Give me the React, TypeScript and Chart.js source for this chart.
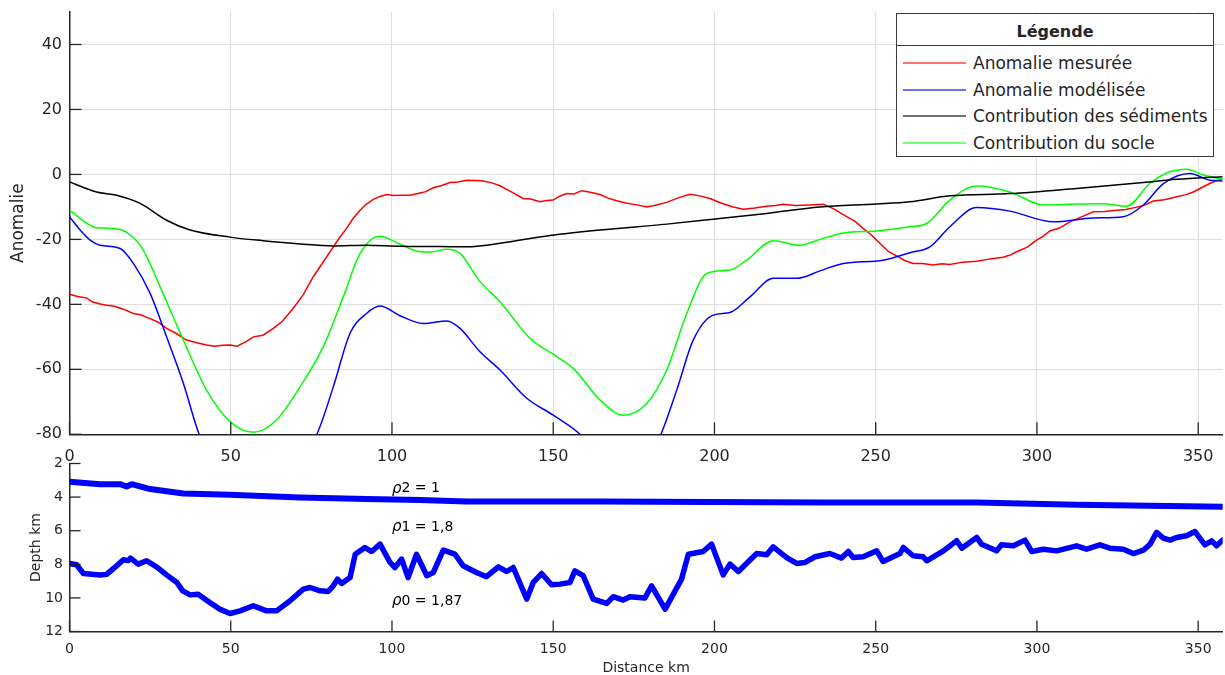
import { useEffect, useRef } from "react";
import { Chart, registerables } from "chart.js";
Chart.register(...registerables);

const FONT = '"DejaVu Sans", "Liberation Sans", sans-serif';
const AXIS = "#262626";

// ---- Top panel: anomalies vs distance (km) ----
const blackX = [0, 8.4, 14.6, 21.9, 30.1, 37.4, 49.8, 60, 71.5, 81.7, 92.1, 102.5, 115, 123.2, 133.5, 149, 164.5, 185.2, 199.6, 216.2, 232.7, 250.3, 260.6, 273, 291.6, 312.3, 333, 343.3, 357.6];
const blackY = [-2.3, -5.4, -6.4, -8.9, -14.1, -17.1, -19.3, -20.4, -21.4, -22, -21.8, -22.1, -22.2, -22.3, -21.2, -18.8, -17.1, -15.3, -13.8, -12, -10, -9.1, -8.4, -6.6, -5.9, -4.3, -2.5, -1.5, -0.7];

const redX = [0, 2.5, 5.3, 7, 9.5, 11.5, 13.6, 16.5, 19.8, 22, 25, 27.5, 30.1, 33, 36.3, 39.5, 42.5, 45, 47.5, 49.8, 52, 55, 57, 60, 63.2, 66, 69.4, 72.5, 75.6, 78.5, 81.8, 83.5, 85.9, 88, 90.1, 92, 94.2, 96.5, 98.4, 100.5, 102.5, 105.6, 108.7, 110.5, 112.8, 115.5, 118, 120.5, 123.2, 126, 128.3, 131, 133.5, 137, 140.7, 143, 145.9, 148, 150, 152, 154.2, 156.5, 158.8, 161.5, 164.5, 167, 169.7, 172.5, 175.5, 179, 182, 185.2, 188.5, 192.4, 195.5, 198.6, 202, 205.8, 208.9, 212.5, 216.2, 219, 221.3, 225, 229.6, 233.7, 237, 241, 243.5, 246.1, 248.5, 251.3, 254, 256.5, 259, 261.6, 264.5, 267.8, 270.5, 273, 277, 281.3, 285.5, 289.5, 291.5, 293.7, 297, 299.9, 302, 304, 307, 310.2, 314, 317.5, 321, 324.7, 327.5, 329.9, 333, 336.1, 339.5, 343.3, 346, 348.5, 351, 353.6, 355.5, 357.6];
const redY = [-36.9, -37.6, -38.0, -39.2, -39.9, -40.3, -40.5, -41.4, -42.8, -43.2, -44.4, -45.5, -47.4, -48.9, -51, -51.8, -52.5, -52.9, -52.6, -52.5, -52.9, -51.3, -50, -49.5, -47.4, -45.2, -41.2, -37, -31.5, -27.2, -22.3, -19.8, -16.6, -13.5, -11, -9.2, -7.7, -6.7, -6.2, -6.5, -6.4, -6.4, -5.7, -5.3, -4.1, -3.4, -2.5, -2.3, -1.8, -1.9, -2, -2.6, -3.5, -5.4, -7.4, -7.6, -8.4, -8.0, -7.9, -6.7, -5.9, -6.0, -5.0, -5.5, -6.2, -7.3, -8.1, -8.8, -9.3, -10, -9.4, -8.6, -7.3, -6.1, -6.6, -7.4, -8.8, -10, -10.7, -10.3, -9.8, -9.6, -9.2, -9.6, -9.4, -9.2, -10.6, -13, -14.4, -16.6, -18.5, -21.2, -23.8, -25.1, -26.5, -27.4, -27.4, -27.9, -27.5, -27.7, -27.0, -26.7, -26.0, -25.5, -24.9, -23.8, -22.4, -20.2, -19.0, -17.4, -16.5, -14.6, -13.0, -11.5, -11.4, -11, -10.8, -10.3, -9.6, -8.2, -7.8, -6.9, -6.3, -5.4, -4.1, -2.8, -2.0, -1.5];

const greenX = [0, 8.4, 14.6, 19.8, 22.9, 28.1, 35.3, 42.5, 49.8, 57, 64.2, 71.5, 78.7, 84.9, 90.1, 96.3, 102.5, 108.7, 112, 117, 121.1, 127.3, 133.5, 142.8, 150, 156.2, 164.5, 171.7, 179, 185.2, 191.4, 197.6, 204.8, 210, 218.2, 226.5, 232.7, 239.9, 250.3, 260.6, 265.8, 273, 281.3, 291.6, 302, 312.3, 320, 327.8, 335, 341.2, 346.4, 351.6, 357.6];
const greenY = [-11, -16.4, -16.7, -19.4, -23.3, -34.6, -51, -66.4, -76.1, -79.4, -75.6, -65.4, -53, -37.7, -24.3, -19, -21.5, -23.8, -23.9, -23, -24.3, -33, -39.2, -50.5, -55.4, -59.7, -69.4, -74.1, -70.5, -60.2, -42.8, -30.5, -29.4, -26.4, -20.4, -21.8, -20, -18, -17.4, -16.1, -15.1, -7.9, -3.6, -5.4, -9.4, -9.1, -9.0, -9.8, -2.8, 0.8, 1.6, -0.2, -1.5];

const blueX = [0, 3.3, 6.4, 9.5, 15.7, 19.8, 25, 30.1, 35.3, 40.2, 47, 57, 67, 76.7, 81.8, 87, 92.1, 96.3, 102.5, 109.7, 117, 121.1, 127.3, 133.5, 141.8, 150, 158.3, 165, 172, 178, 183.4, 188.3, 193.4, 199.6, 204.8, 211, 218.2, 225.5, 232.7, 239.9, 252.3, 260.6, 266.8, 273, 281.3, 291.6, 305.1, 317.5, 326.8, 333, 339.2, 347.5, 353.6, 357.6];
const blueY = [-13, -17.1, -20.2, -21.8, -22.8, -27.4, -36.6, -50, -64.3, -80, -93, -99, -94, -80, -65.4, -48.9, -42.8, -40.5, -43.5, -45.9, -45.1, -47.4, -54.6, -60.2, -68.9, -74.1, -80, -88, -93, -90, -80, -66.4, -51, -43.3, -42.5, -37.7, -32, -32, -29.7, -27.4, -26.4, -24.1, -22.3, -16.1, -10.2, -11.3, -14.6, -13.4, -13, -9.4, -2.8, 0.3, -1.8, -2];

const seriesNames = ["Anomalie mesurée", "Anomalie modélisée", "Contribution des sédiments", "Contribution du socle"];
const seriesColors = ["#ff0000", "#0000ff", "#000000", "#00ff00"];
const legendColors = ["#ff7070", "#7070ff", "#707070", "#70ff70"];
const legendTitle = "Légende";

// ---- Bottom panel: interface depths (km) ----
const sedX = [0, 9.5, 15.7, 17.7, 19.3, 25, 35.3, 49.8, 71.5, 92.1, 108.7, 123.2, 164.5, 232.7, 281.3, 312.3, 357.6];
const sedY = [3.09, 3.23, 3.23, 3.37, 3.23, 3.52, 3.79, 3.86, 4.02, 4.12, 4.18, 4.26, 4.26, 4.32, 4.32, 4.46, 4.58];

const baseX = [0, 2.2, 4.3, 9.5, 11.5, 14.6, 16.7, 18.2, 18.9, 21.3, 23.9, 27, 30.1, 33.3, 35.1, 37.4, 39.9, 43.5, 46.6, 49.8, 52.9, 57, 61.1, 64.2, 68.4, 72.5, 74.6, 77.7, 80.2, 81.8, 83.1, 84.4, 87, 88.6, 91.6, 93.7, 96.3, 99.4, 100.9, 103, 105, 107.6, 110.8, 112.8, 115.9, 119.5, 122.1, 126.2, 129.3, 133, 135.6, 137.6, 141.8, 143.8, 146.4, 149.5, 152.1, 155.2, 156.7, 159.3, 162.4, 166.6, 168.6, 171.7, 173.8, 178.4, 180.5, 184.7, 189.8, 191.9, 196.5, 199.1, 202.7, 204.8, 207.4, 213.1, 216.2, 218.2, 222.4, 225.5, 228.1, 231.2, 235.8, 239.4, 241.5, 243, 246.1, 250.3, 252.3, 257.5, 258.6, 261.6, 264.7, 265.8, 271, 275.1, 276.7, 281.3, 282.8, 287.5, 289, 292.7, 296.3, 298.4, 302, 306.1, 312.3, 315.4, 319.5, 322.6, 326.8, 329.9, 333, 335.1, 337.1, 339.2, 341.3, 343.3, 346.4, 349, 352.1, 354.2, 355.7, 357.6];
const baseY = [7.95, 8.03, 8.55, 8.63, 8.6, 8.09, 7.73, 7.78, 7.63, 7.99, 7.79, 8.15, 8.63, 9.08, 9.58, 9.82, 9.78, 10.27, 10.67, 10.93, 10.77, 10.47, 10.77, 10.77, 10.17, 9.48, 9.38, 9.58, 9.62, 9.28, 8.88, 9.14, 8.79, 7.4, 7.0, 7.24, 6.8, 7.89, 8.19, 7.69, 8.79, 7.4, 8.68, 8.49, 7.16, 7.4, 8.09, 8.49, 8.74, 8.15, 8.43, 8.19, 10.07, 9.08, 8.55, 9.22, 9.18, 9.08, 8.39, 8.68, 10.07, 10.33, 9.93, 10.13, 9.93, 10.01, 9.28, 10.67, 8.88, 7.4, 7.24, 6.8, 8.63, 7.99, 8.43, 7.36, 7.43, 6.96, 7.6, 7.95, 7.89, 7.55, 7.36, 7.63, 7.24, 7.6, 7.55, 7.2, 7.83, 7.36, 7.0, 7.49, 7.55, 7.79, 7.2, 6.6, 7.04, 6.4, 6.8, 7.2, 6.84, 6.9, 6.56, 7.24, 7.1, 7.2, 6.9, 7.1, 6.84, 7.04, 7.1, 7.36, 7.16, 6.8, 6.1, 6.44, 6.56, 6.4, 6.3, 6.05, 6.84, 6.6, 6.9, 6.56];

const rhoSubs = ["2 = 1", "1 = 1,8", "0 = 1,87"];
const rhoAtX = [100, 100, 100];
const rhoAtDepth = [3.5, 5.8, 10.2];

const X_MAX = 357.6;

const pts = (xs: number[], ys: number[]) => xs.map((x, i) => ({ x, y: ys[i] }));

const noPad = (s: any) => {
  s.paddingTop = 0;
  s.paddingBottom = 0;
  s.paddingLeft = 0;
  s.paddingRight = 0;
};

function inwardTicks(len: number) {
  return {
    id: "inwardTicks",
    afterDatasetsDraw(chart: any) {
      const { ctx, chartArea, scales } = chart;
      ctx.save();
      ctx.strokeStyle = AXIS;
      ctx.lineWidth = 1.3;
      const xs = scales.x;
      const ys = scales.y;
      xs.ticks.forEach((t: any) => {
        const px = xs.getPixelForValue(t.value);
        ctx.beginPath();
        ctx.moveTo(px, chartArea.bottom);
        ctx.lineTo(px, chartArea.bottom - len);
        ctx.stroke();
      });
      ys.ticks.forEach((t: any) => {
        const py = ys.getPixelForValue(t.value);
        ctx.beginPath();
        ctx.moveTo(chartArea.left, py);
        ctx.lineTo(chartArea.left + len, py);
        ctx.stroke();
      });
      ctx.restore();
    },
  };
}

const rhoLabels = {
  id: "rhoLabels",
  afterDatasetsDraw(chart: any) {
    const { ctx, scales } = chart;
    ctx.save();
    ctx.fillStyle = "#000";
    ctx.textBaseline = "middle";
    ctx.textAlign = "left";
    rhoSubs.forEach((s, i) => {
      const px = scales.x.getPixelForValue(rhoAtX[i]);
      const py = scales.y.getPixelForValue(rhoAtDepth[i]);
      ctx.font = `italic 15px ${FONT}`;
      ctx.fillText("ρ", px, py);
      const w = ctx.measureText("ρ").width;
      ctx.font = `14px ${FONT}`;
      ctx.fillText(s, px + w, py);
    });
    ctx.restore();
  },
};

export default function App() {
  const topRef = useRef<HTMLCanvasElement>(null);
  const botRef = useRef<HTMLCanvasElement>(null);

  useEffect(() => {
    const lineDs = (label: string, xs: number[], ys: number[], color: string, tension: number) => ({
      label,
      data: pts(xs, ys),
      borderColor: color,
      backgroundColor: color,
      borderWidth: 1.5,
      pointRadius: 0,
      tension,
      cubicInterpolationMode: tension > 0.3 ? "monotone" : "default",
      fill: false,
    });

    const top = new Chart(topRef.current!, {
      type: "line",
      data: {
        datasets: [
          lineDs(seriesNames[2], blackX, blackY, seriesColors[2], 0.4),
          lineDs(seriesNames[3], greenX, greenY, seriesColors[3], 0.4),
          lineDs(seriesNames[1], blueX, blueY, seriesColors[1], 0.4),
          lineDs(seriesNames[0], redX, redY, seriesColors[0], 0),
        ] as any,
      },
      options: {
        animation: false,
        responsive: true,
        maintainAspectRatio: false,
        layout: { padding: { top: 12, right: 2.3, left: 0, bottom: 0 } },
        plugins: { legend: { display: false }, tooltip: { enabled: false } },
        scales: {
          x: {
            type: "linear",
            min: 0,
            max: X_MAX,
            ticks: { stepSize: 50, includeBounds: false, padding: 12.5, maxRotation: 0, color: AXIS, font: { family: FONT, size: 16 } },
            grid: { color: "#dedede", drawTicks: false, lineWidth: 1 },
            border: { display: true, color: AXIS, width: 1.5 },
            afterFit: (s: any) => { s.height = 35.7; noPad(s); },
          },
          y: {
            type: "linear",
            min: -80,
            max: 50,
            ticks: { stepSize: 20, includeBounds: false, padding: 7.5, color: AXIS, font: { family: FONT, size: 16 } },
            grid: { color: "#dedede", drawTicks: false, lineWidth: 1 },
            border: { display: true, color: AXIS, width: 1.5 },
            title: { display: true, text: "Anomalie", color: AXIS, font: { family: FONT, size: 17 }, padding: { top: 8, bottom: 0 } },
            afterFit: (s: any) => { s.width = 69.5; noPad(s); },
          },
        },
      } as any,
      plugins: [inwardTicks(12)],
    });

    const bot = new Chart(botRef.current!, {
      type: "line",
      data: {
        datasets: [
          { label: "sed", data: pts(sedX, sedY), borderColor: "#0000ff", borderWidth: 6, pointRadius: 0, tension: 0, borderJoinStyle: "round", borderCapStyle: "round" },
          { label: "base", data: pts(baseX, baseY), borderColor: "#0000ff", borderWidth: 5.5, pointRadius: 0, tension: 0, borderJoinStyle: "round", borderCapStyle: "round" },
        ] as any,
      },
      options: {
        animation: false,
        responsive: true,
        maintainAspectRatio: false,
        layout: { padding: { top: 23.5, right: 2.3, left: 0, bottom: 0 } },
        plugins: { legend: { display: false }, tooltip: { enabled: false } },
        scales: {
          x: {
            type: "linear",
            min: 0,
            max: X_MAX,
            ticks: { stepSize: 50, includeBounds: false, padding: 9, maxRotation: 0, color: AXIS, font: { family: FONT, size: 14 } },
            grid: { color: "rgba(0,0,0,0)", drawTicks: false },
            border: { display: true, color: AXIS, width: 1.5 },
            title: { display: true, text: "Distance km", color: AXIS, font: { family: FONT, size: 14 }, padding: { top: 0, bottom: -1.5 } },
            afterFit: (s: any) => { s.height = 43.5; noPad(s); },
          },
          y: {
            type: "linear",
            min: 2,
            max: 12,
            reverse: true,
            ticks: { stepSize: 2, includeBounds: false, padding: 6.5, color: AXIS, font: { family: FONT, size: 14 } },
            grid: { color: "rgba(0,0,0,0)", drawTicks: false },
            border: { display: true, color: AXIS, width: 1.5 },
            title: { display: true, text: "Depth km", color: AXIS, font: { family: FONT, size: 14 }, padding: { top: 27.6, bottom: 0 } },
            afterFit: (s: any) => { s.width = 69.5; noPad(s); },
          },
        },
      } as any,
      plugins: [inwardTicks(11), rhoLabels],
    });

    return () => {
      top.destroy();
      bot.destroy();
    };
  }, []);

  return (
    <div style={{ position: "absolute", left: 0, top: 0, width: 1225, height: 675, background: "#fff", overflow: "hidden", fontFamily: FONT }}>
      <div style={{ position: "absolute", left: 0, top: 0, width: 1225, height: 470 }}>
        <canvas ref={topRef} />
      </div>
      <div style={{ position: "absolute", left: 0, top: 440, width: 1225, height: 235 }}>
        <canvas ref={botRef} />
      </div>
      <div
        style={{
          position: "absolute",
          left: 896,
          top: 13,
          width: 316,
          height: 142,
          background: "#fff",
          border: "1px solid #3a3a3a",
          boxSizing: "content-box",
          color: "#262626",
        }}
      >
        <div style={{ height: 31, borderBottom: "1px solid #3a3a3a", textAlign: "center", fontWeight: "bold", fontSize: 16, lineHeight: "36px" }}>
          {legendTitle}
        </div>
        {seriesNames.map((n, i) => (
          <div key={n} style={{ position: "absolute", left: 0, top: 36 + i * 26.6, height: 26, display: "flex", alignItems: "center" }}>
            <div style={{ marginLeft: 6, width: 63, height: 2, background: legendColors[i] }} />
            <div style={{ marginLeft: 7, fontSize: 17, whiteSpace: "nowrap" }}>{n}</div>
          </div>
        ))}
      </div>
    </div>
  );
}
